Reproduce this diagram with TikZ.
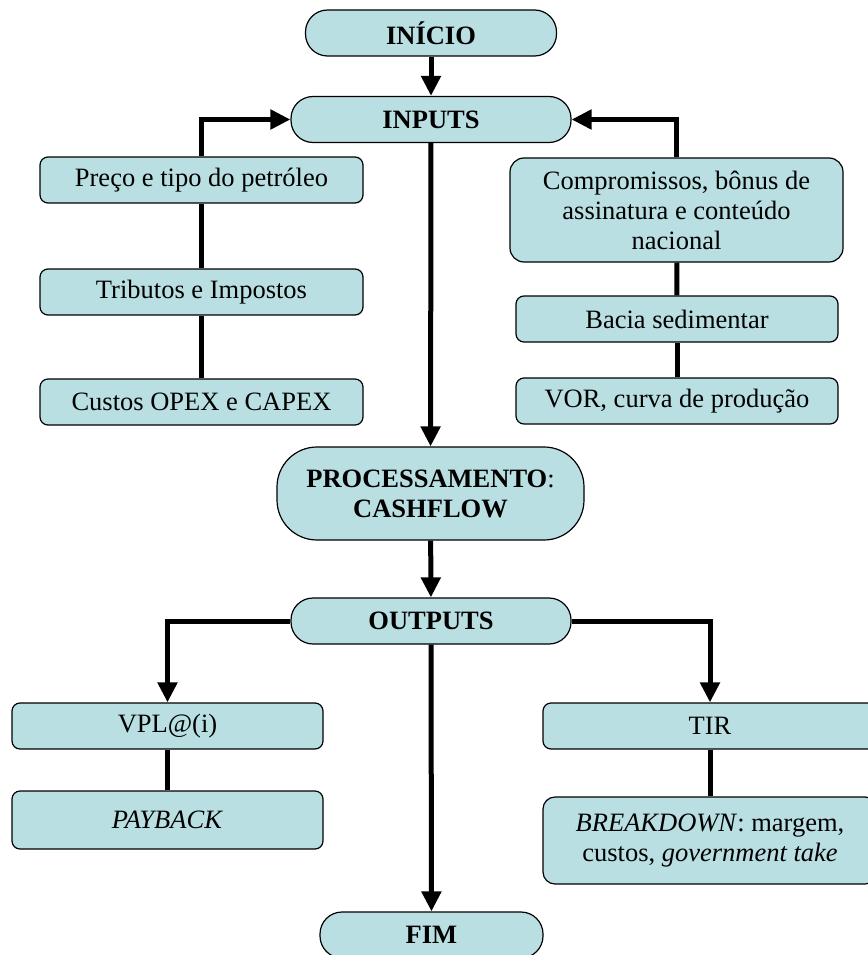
\documentclass[tikz,border=0pt]{standalone}
\usepackage{fontspec}
\setmainfont{Liberation Serif}
\definecolor{FLUXfill}{HTML}{B9DFE3}
\usetikzlibrary{arrows.meta, positioning}

\begin{document}
\begin{tikzpicture}[x=1pt, y=-1pt,
    font=\fontsize{26.5}{30}\selectfont,
    caixa/.style={draw, fill=FLUXfill, line width=1.2pt, rounded corners=8pt,
       minimum height=46pt, align=center, inner sep=3pt},
    pilula/.style={caixa, rounded corners=22pt},
    fluxo/.style={line width=5pt},
    seta/.style={fluxo, -{Triangle[length=20pt, width=19pt]}}]
   \useasboundingbox (0,0) rectangle (867,955);
   % Start and inputs
   \node[pilula, minimum width=251pt] (inicio) at (431,33) {\textbf{INÍCIO}};
   \node[pilula, minimum width=280pt] (inputs) at (431,119.5) {\textbf{INPUTS}};
   % Left column of inputs
   \node[caixa, minimum width=323pt] (preco) at (201.5,180) {Preço e tipo do petróleo};
   \node[caixa, minimum width=323pt] (tributos) at (201.5,292) {Tributos e Impostos};
   \node[caixa, minimum width=323pt] (custos) at (201.5,402) {Custos OPEX e CAPEX};
   % Right column of inputs
   \node[caixa, minimum width=333pt, minimum height=104pt, rounded corners=14pt] (compromissos) at (676.5,210)
      {Compromissos, bônus de\\ assinatura e conteúdo\\ nacional};
   \node[caixa, minimum width=322pt] (bacia) at (677,319) {Bacia sedimentar};
   \node[caixa, minimum width=322pt] (vor) at (677,401) {VOR, curva de produção};
   % Processing
   \node[pilula, minimum width=307pt, minimum height=93pt, rounded corners=40pt] (processo) at (430.5,493.5)
      {\textbf{PROCESSAMENTO}:\\ \textbf{CASHFLOW}};
   % Outputs
   \node[pilula, minimum width=280pt] (outputs) at (431,621) {\textbf{OUTPUTS}};
   \node[caixa, minimum width=311pt] (vpl) at (167.5,726) {VPL@(i)};
   \node[caixa, minimum width=311pt, minimum height=58pt] (payback) at (167.5,820) {\textit{PAYBACK}};
   \node[caixa, minimum width=334pt] (tir) at (710,726) {TIR};
   \node[caixa, minimum width=334pt, minimum height=87pt, rounded corners=12pt] (breakdown) at (710,840.5)
      {\textit{BREAKDOWN}: margem,\\ custos, \textit{government take}};
   \node[pilula, minimum width=223pt] (fim) at (431.5,935) {\textbf{FIM}};
   % Connectors
   \draw[seta] (inicio) -- (inputs);
   \draw[fluxo] (custos) -- (tributos);
   \draw[fluxo] (tributos) -- (preco);
   \draw[seta] (preco.north) |- (inputs.west);
   \draw[fluxo] (vor) -- (bacia);
   \draw[fluxo] (bacia) -- (compromissos);
   \draw[seta] (compromissos.north) |- (inputs.east);
   \draw[seta] (inputs) -- (processo);
   \draw[seta] (processo) -- (outputs);
   \draw[seta] (outputs.west) -| (vpl.north);
   \draw[fluxo] (vpl) -- (payback);
   \draw[seta] (outputs.east) -| (tir.north);
   \draw[fluxo] (tir) -- (breakdown);
   \draw[seta] (outputs) -- (fim);
\end{tikzpicture}
\end{document}
